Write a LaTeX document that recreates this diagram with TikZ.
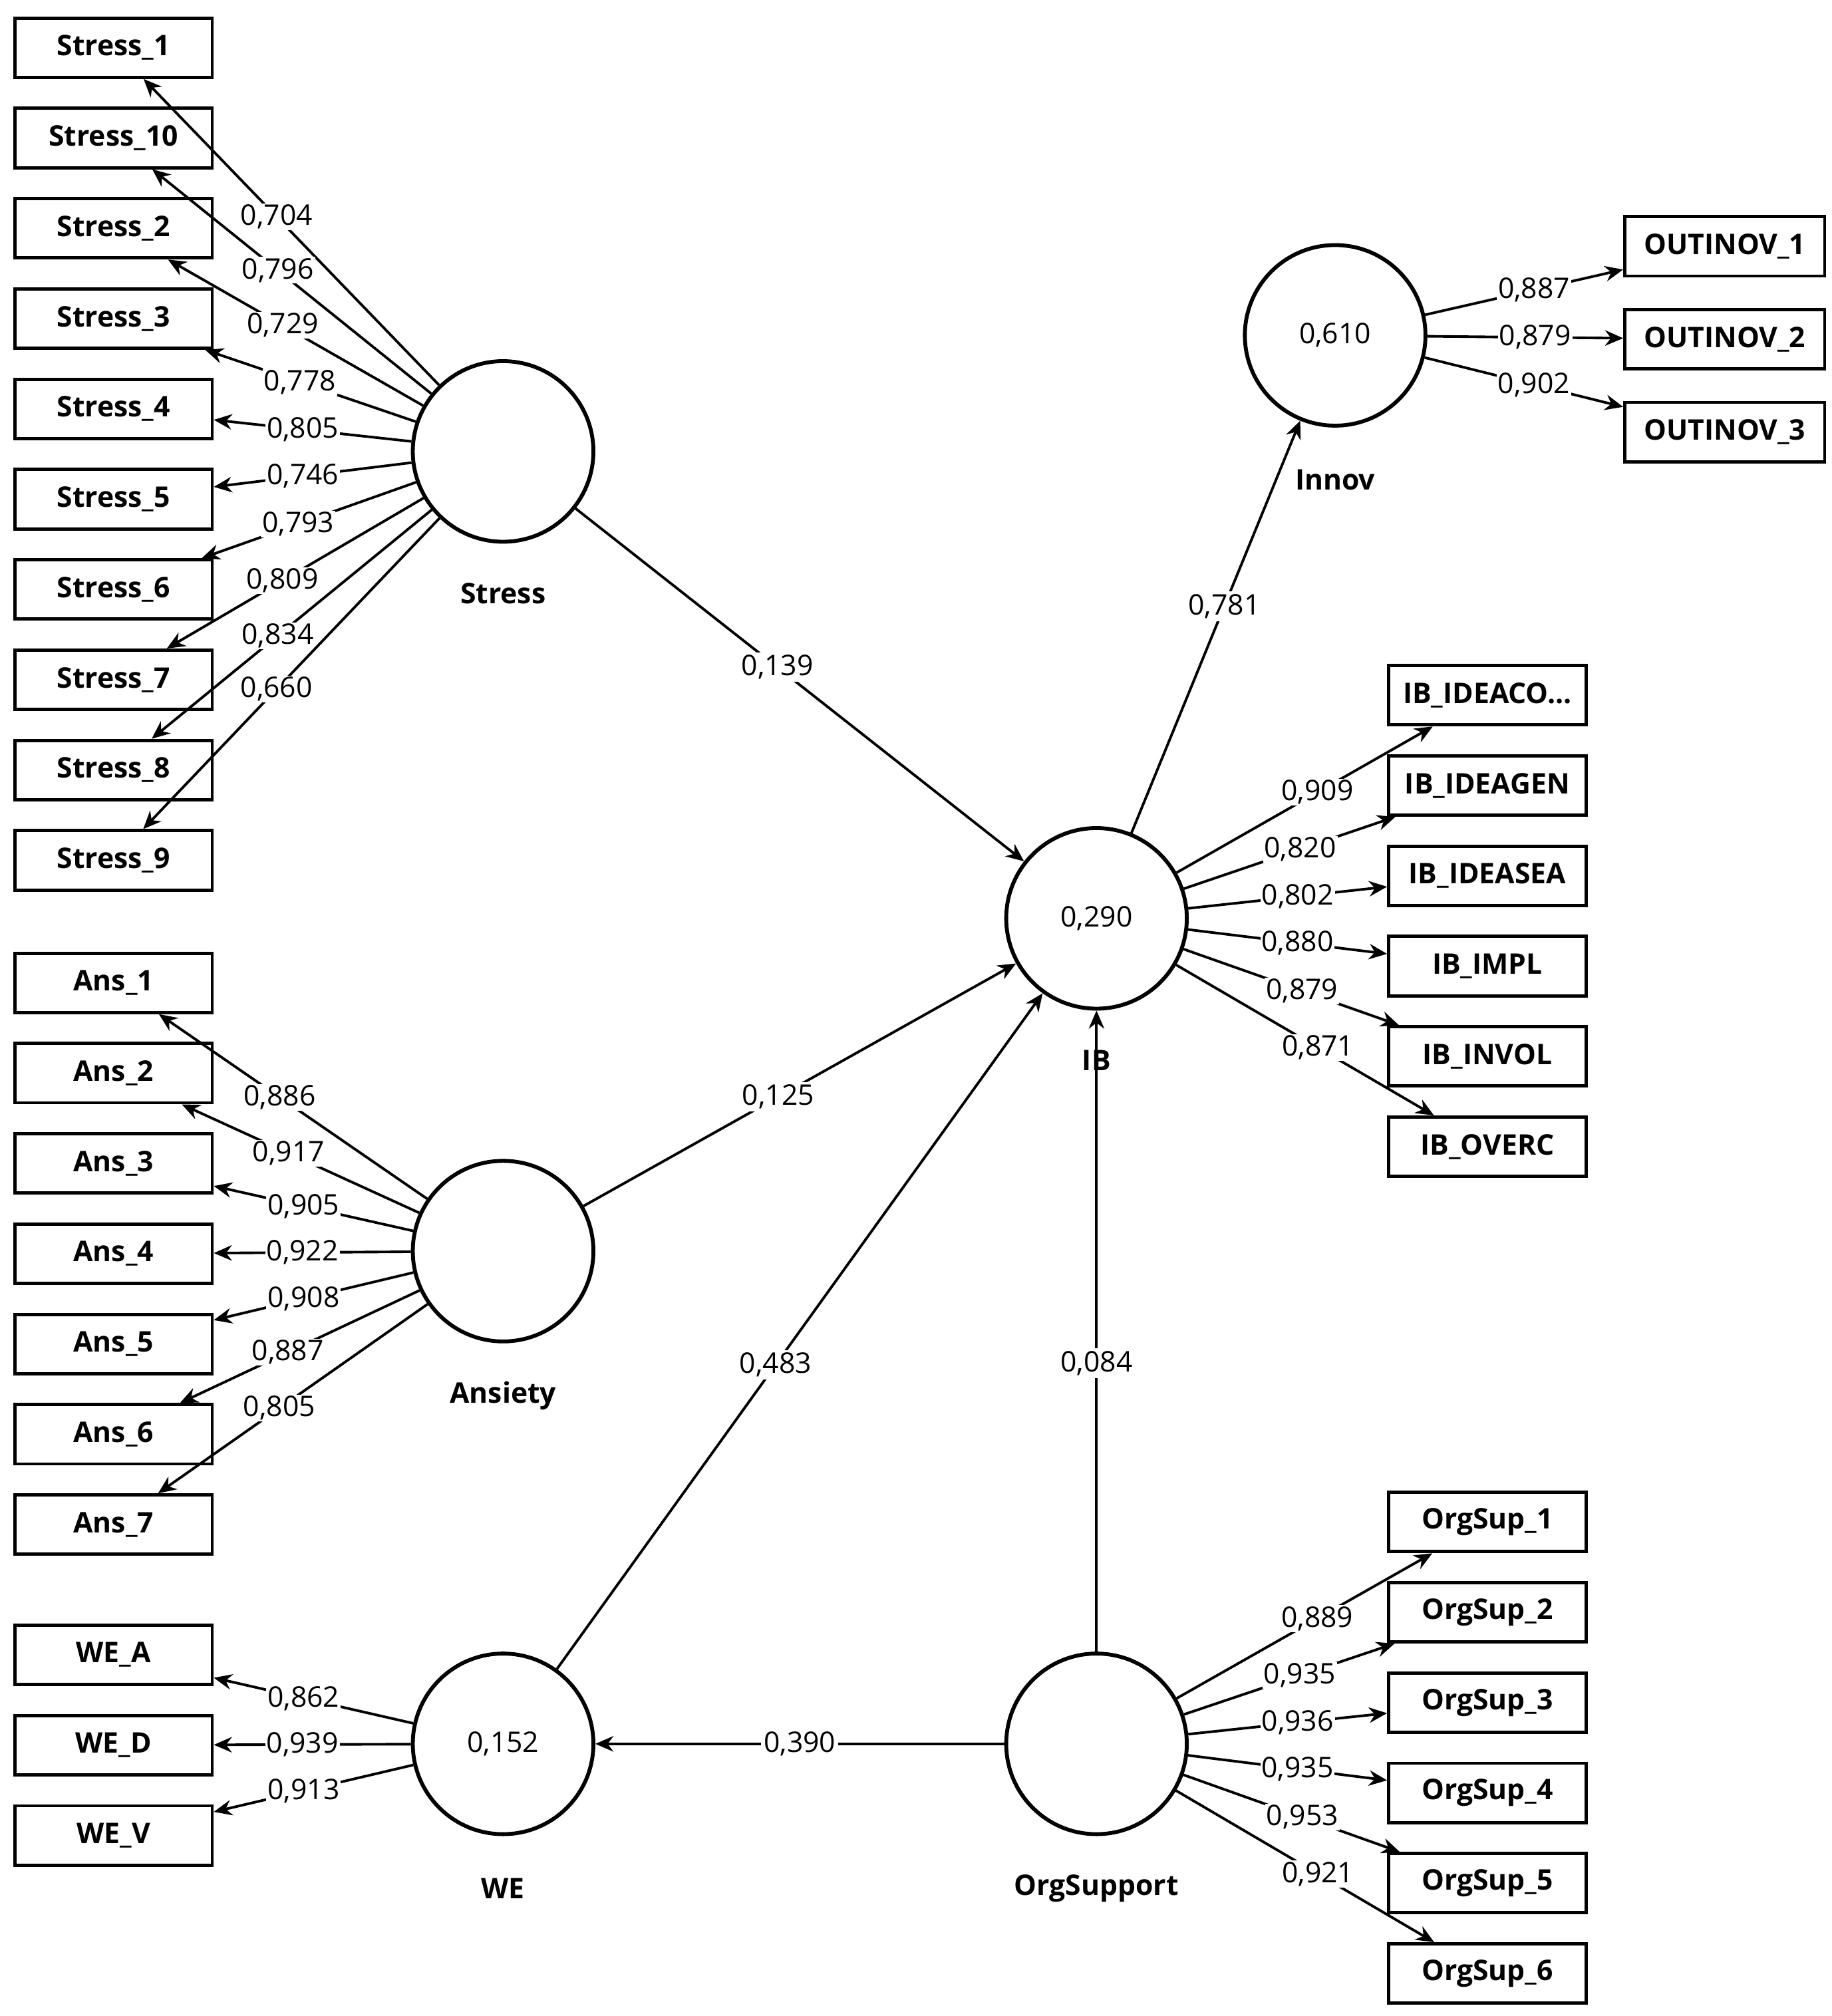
\documentclass[tikz,border=0pt]{standalone}
\usepackage{fontspec}
\setmainfont{Open Sans}
\usetikzlibrary{arrows.meta}
\begin{document}
\begin{tikzpicture}[x=1pt,y=-1pt,
 every node/.style={font=\fontsize{22}{26}\selectfont},
 ind/.style={draw,line width=2.5pt,minimum width=153pt,minimum height=46pt,inner sep=0pt,font=\fontsize{22}{26}\selectfont\bfseries},
 lat/.style={draw,circle,line width=3pt,minimum size=140pt,inner sep=0pt},
 lab/.style={font=\fontsize{22}{26}\selectfont\bfseries},
 ar/.style={line width=2pt,-{Stealth[length=14pt,width=12pt]}},
 w/.style={fill=white,inner sep=1pt,pos=0.55}]
\useasboundingbox (0,0) rectangle (1420,1563);
% latent
\node[lat] (S) at (390,350) {};
\node[lat] (A) at (390,970) {};
\node[lat] (W) at (390,1352) {0,152};
\node[lat] (IB) at (850,712) {0,290};
\node[lat] (I) at (1035,260) {0,610};
\node[lat] (O) at (850,1352) {};
\node[lab] at (390,460) {Stress};
\node[lab] at (390,1082) {Ansiety};
\node[lab] at (390,1464) {WE};
\node[lab] at (850,1464) {OrgSupport};
\node[lab] at (850,822) {IB};
\node[lab] at (1035,372) {Innov};
% Stress indicators
\foreach \n/\y/\v in {1/37/0{,}704,10/107/0{,}796,2/177/0{,}729,3/247/0{,}778,4/317/0{,}805,5/387/0{,}746,6/457/0{,}793,7/527/0{,}809,8/597/0{,}834,9/667/0{,}660}{
 \node[ind] (s\n) at (88,\y) {Stress\_\n};
 \draw[ar] (S) -- node[w]{\v} (s\n);}
\foreach \n/\y/\v in {1/762/0{,}886,2/832/0{,}917,3/902/0{,}905,4/972/0{,}922,5/1042/0{,}908,6/1112/0{,}887,7/1182/0{,}805}{
 \node[ind] (a\n) at (88,\y) {Ans\_\n};
 \draw[ar] (A) -- node[w]{\v} (a\n);}
\foreach \n/\y/\v in {A/1283/0{,}862,D/1353/0{,}939,V/1423/0{,}913}{
 \node[ind] (w\n) at (88,\y) {WE\_\n};
 \draw[ar] (W) -- node[w]{\v} (w\n);}
\foreach \n/\t/\y/\v in {1/{IB\_IDEACO.\kern0pt.\kern0pt.}/539/0{,}909,2/IB\_IDEAGEN/609/0{,}820,3/IB\_IDEASEA/679/0{,}802,4/IB\_IMPL/749/0{,}880,5/IB\_INVOL/819/0{,}879,6/IB\_OVERC/889/0{,}871}{
 \node[ind] (b\n) at (1153,\y) {\t};
 \draw[ar] (IB) -- node[w]{\v} (b\n);}
\foreach \n/\y/\v in {1/1180/0{,}889,2/1250/0{,}935,3/1320/0{,}936,4/1390/0{,}935,5/1460/0{,}953,6/1530/0{,}921}{
 \node[ind] (o\n) at (1153,\y) {OrgSup\_\n};
 \draw[ar] (O) -- node[w]{\v} (o\n);}
\foreach \n/\y/\v in {1/191/0{,}887,2/263/0{,}879,3/335/0{,}902}{
 \node[ind,minimum width=155pt] (i\n) at (1337,\y) {OUTINOV\_\n};
 \draw[ar] (I) -- node[w]{\v} (i\n);}
% structural
\draw[ar] (S) -- node[fill=white,inner sep=2pt,pos=0.45]{0,139} (IB);
\draw[ar] (A) -- node[fill=white,inner sep=2pt,pos=0.45]{0,125} (IB);
\draw[ar] (W) -- node[fill=white,inner sep=2pt,pos=0.45]{0,483} (IB);
\draw[ar] (O) -- node[fill=white,inner sep=2pt,pos=0.45]{0,084} (IB);
\draw[ar] (O) -- node[fill=white,inner sep=2pt]{0,390} (W);
\draw[ar] (IB) -- node[fill=white,inner sep=2pt,pos=0.55]{0,781} (I);
\end{tikzpicture}
\end{document}
